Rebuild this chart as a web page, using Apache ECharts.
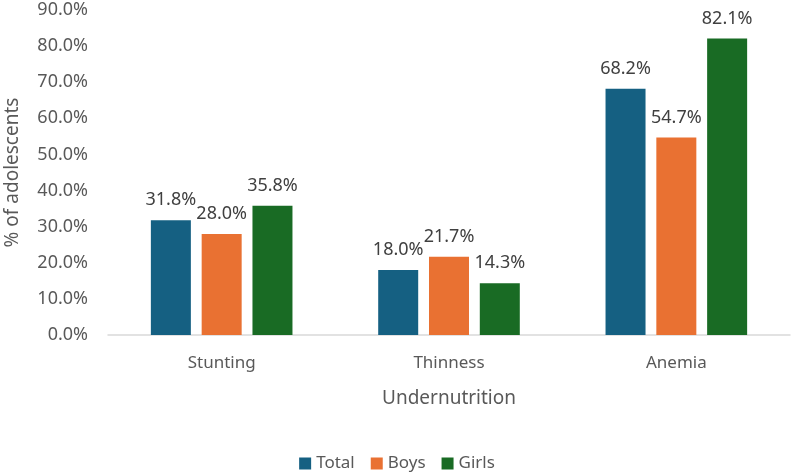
<!DOCTYPE html>
<html>
<head>
<meta charset="utf-8">
<script src="https://cdn.jsdelivr.net/npm/echarts@6/dist/echarts.min.js"></script>
<style>
  html, body { margin: 0; padding: 0; background: #fff; }
  #chart { width: 794px; height: 472px; }
</style>
</head>
<body>
<div id="chart"></div>
<script>
const categories = ['Stunting', 'Thinness', 'Anemia'];
const totalValues = [31.8, 18.0, 68.2];
const boysValues = [28.0, 21.7, 54.7];
const girlsValues = [35.8, 14.3, 82.1];

const font = '"Noto Sans", sans-serif';
const textColor = '#595959';

const chart = echarts.init(document.getElementById('chart'));

function barSeries(name, data, color) {
  return {
    name: name,
    type: 'bar',
    data: data,
    barWidth: 40,
    barGap: '27%',
    itemStyle: { color: color },
    label: {
      show: true,
      position: 'top',
      distance: 11,
      formatter: p => p.value.toFixed(1) + '%',
      color: '#404040',
      fontSize: 18,
      fontFamily: font
    }
  };
}

chart.setOption({
  animation: false,
  legend: {
    data: ['Total', 'Boys', 'Girls'],
    top: 450,
    left: 'center',
    itemWidth: 12,
    itemHeight: 12,
    itemGap: 16,
    icon: 'rect',
    textStyle: { color: textColor, fontSize: 17, fontFamily: font }
  },
  grid: { left: 108, right: 4, top: 10, bottom: 137, outerBoundsMode: 'none', containLabel: false },
  xAxis: {
    type: 'category',
    data: categories,
    name: 'Undernutrition',
    nameLocation: 'middle',
    nameGap: 54,
    nameTextStyle: { color: textColor, fontSize: 19, fontFamily: font },
    axisLine: { lineStyle: { color: '#d9d9d9', width: 1.5 } },
    axisTick: { show: false },
    axisLabel: { color: textColor, fontSize: 17, fontFamily: font, margin: 20 }
  },
  yAxis: {
    type: 'value',
    min: 0,
    max: 90,
    interval: 10,
    name: '% of adolescents',
    nameLocation: 'middle',
    nameGap: 86,
    nameTextStyle: { color: textColor, fontSize: 19, fontFamily: font },
    splitLine: { show: false },
    axisLine: { show: false },
    axisTick: { show: false },
    axisLabel: {
      color: textColor,
      fontSize: 18,
      fontFamily: font,
      margin: 20,
      formatter: v => v.toFixed(1) + '%'
    }
  },
  series: [
    barSeries('Total', totalValues, '#156082'),
    barSeries('Boys', boysValues, '#e97132'),
    barSeries('Girls', girlsValues, '#196b24')
  ]
});
</script>
</body>
</html>
